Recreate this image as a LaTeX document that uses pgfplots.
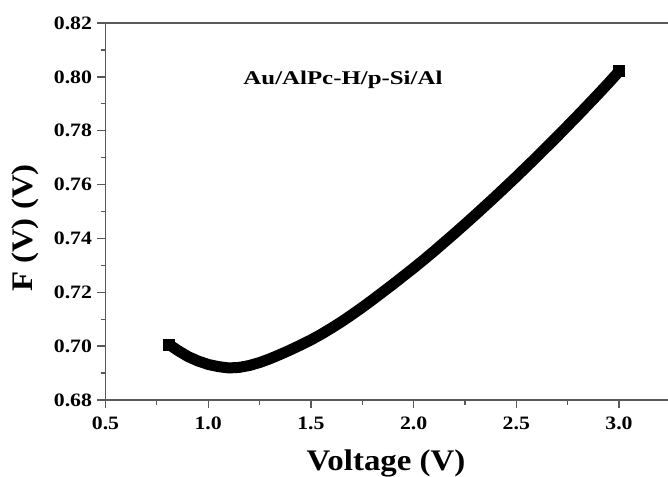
\documentclass[border=0pt]{standalone}
\usepackage{fontspec}
\setmainfont{Liberation Serif}
\newfontfamily\tickf{Liberation Serif}[FakeStretch=1.15]
\newfontfamily\annf{Liberation Serif}[FakeStretch=1.28]
\newfontfamily\labf{Liberation Serif}[FakeStretch=1.1]
\usepackage{pgfplots}
\pgfplotsset{compat=1.18}
\begin{document}
\begin{tikzpicture}
\begin{axis}[
  name=ax,
  scale only axis, width=562.5bp, height=377bp,
  xmin=0.5, xmax=3.2385, ymin=0.68, ymax=0.82,
  axis x line*=box, axis y line*=left,
  xtick pos=bottom, ytick pos=left,
  tick align=outside,
  major tick length=8bp, minor tick length=4.5bp,
  xtick={0.5,1.0,1.5,2.0,2.5,3.0},
  minor x tick num=1,
  ytick={0.68,0.70,0.72,0.74,0.76,0.78,0.80,0.82},
  minor y tick num=1,
  xticklabel style={/pgf/number format/fixed, /pgf/number format/fixed zerofill, /pgf/number format/precision=1, yshift=-5bp},
  yticklabel style={/pgf/number format/fixed, /pgf/number format/fixed zerofill, /pgf/number format/precision=2, xshift=-2bp},
  /pgf/number format/assume math mode=true,
  tick label style={font=\tickf\bfseries\fontsize{19}{19}\selectfont},
  axis line style={black!65, line width=1.3bp},
  every tick/.style={black!65, line width=1.3bp},
  xlabel={Voltage (V)}, ylabel={F (V) (V)},
  label style={font=\labf\bfseries\fontsize{30}{30}\selectfont},
  xlabel style={at={(axis description cs:0.4987,-0.1857)}, anchor=base},
  ylabel style={at={(axis description cs:-0.1431,0.456)}, anchor=center},
  clip=false,
]
\addplot[black, line width=11bp, line join=round, mark=square*, mark indices={1,45}, mark size=5.5bp, mark options={line width=0pt, fill=black}] coordinates {
(0.81,0.7006) (0.85,0.6985) (0.90,0.6962) (0.95,0.6945) (1.00,0.6932)
(1.05,0.6924) (1.10,0.6919) (1.15,0.6921) (1.20,0.6928) (1.25,0.6939)
(1.30,0.6953) (1.35,0.6969) (1.40,0.6986) (1.45,0.7004) (1.50,0.7023)
(1.55,0.7044) (1.60,0.7067) (1.65,0.7091) (1.70,0.7117) (1.75,0.7144)
(1.80,0.7172) (1.85,0.7201) (1.90,0.7230) (1.95,0.7260) (2.00,0.7290)
(2.05,0.7321) (2.10,0.7353) (2.15,0.7386) (2.20,0.7419) (2.25,0.7453)
(2.30,0.7487) (2.35,0.7522) (2.40,0.7557) (2.45,0.7593) (2.50,0.7629)
(2.55,0.7666) (2.60,0.7703) (2.65,0.7741) (2.70,0.7779) (2.75,0.7818)
(2.80,0.7857) (2.85,0.7897) (2.90,0.7937) (2.95,0.7978) (3.00,0.8020)
};
\node[font=\annf\bfseries\fontsize{19.5}{19.5}\selectfont] at (axis cs:1.656,0.7988) {Au/AlPc-H/p-Si/Al};
\end{axis}
\pgfresetboundingbox
\path[use as bounding box] ([xshift=-105.5bp,yshift=-77bp]ax.south west) rectangle ([yshift=23bp]ax.north east);
\end{tikzpicture}
\end{document}
